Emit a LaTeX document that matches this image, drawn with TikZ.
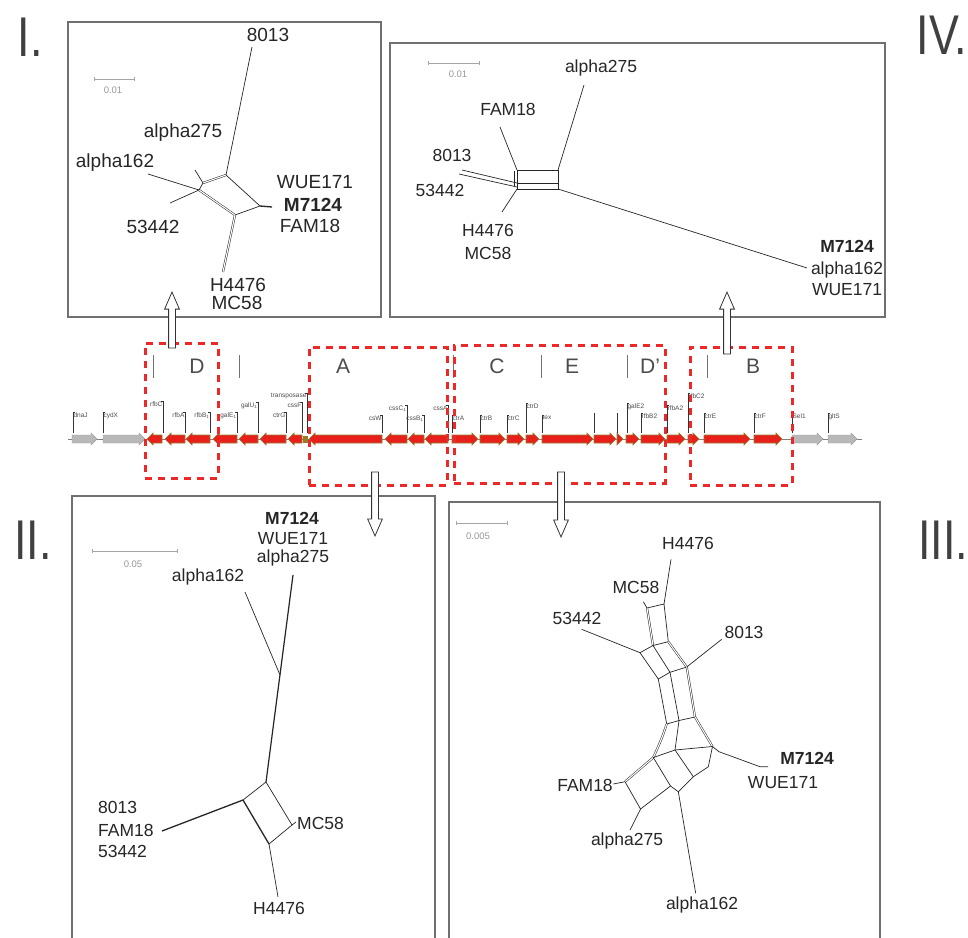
\documentclass[tikz,border=0pt]{standalone}
\usepackage{fontspec}
\setmainfont{Liberation Sans}
\usepackage{graphicx}
\usetikzlibrary{shapes.arrows,arrows.meta}

\definecolor{genrojo}{RGB}{232,32,28}
\definecolor{genoliva}{RGB}{150,125,45}
\definecolor{marco}{RGB}{112,112,112}
\definecolor{cajaroja}{RGB}{236,40,40}

\tikzset{
  panel/.style={draw=marco, line width=1.2pt, inner sep=0pt, outer sep=0pt, anchor=north west},
  rama/.style={draw=black!85, line width=0.7pt},
  ramadoble/.style={draw=black!85, double, double distance=1.1pt, line width=0.5pt},
  hoja/.style={font=\fontsize{17.5}{20}\selectfont, text=black!85, inner sep=1pt},
  escala/.style={draw=black!35, line width=1pt, {|[width=4pt]}-{|[width=4pt]}},
  escalatxt/.style={font=\fontsize{9.5}{10}\selectfont, text=black!40},
  numeral/.style={font=\fontsize{56}{60}\selectfont, text=black!75},
  region/.style={font=\fontsize{21}{24}\selectfont, text=black!70},
  separa/.style={draw=black!55, line width=1pt},
  cajazona/.style={draw=cajaroja, line width=3pt, dash pattern=on 7pt off 6pt,
    inner sep=0pt, outer sep=0pt, anchor=north west},
  genroja/.style={fill=genrojo, draw=genoliva, line width=0.6pt},
  gengris/.style={fill=black!28, draw=black!38, line width=0.4pt},
  gentick/.style={draw=black!80, line width=0.5pt},
  gennom/.style={font=\fontsize{6.5}{7}\selectfont, text=black!70, inner sep=0.4pt},
  flecha/.style={single arrow, draw=black!80, fill=white, line width=0.8pt,
    inner sep=3pt, single arrow head extend=4pt, single arrow tip angle=47}
}

% genes: x inicial, x final, estilo
\newcommand{\genF}[3]{%
  \filldraw[#3] (#1,435) -- ({#2-6},435) -- ({#2-6},433) -- (#2,439)
    -- ({#2-6},445) -- ({#2-6},443) -- (#1,443) -- cycle;}
\newcommand{\genR}[3]{%
  \filldraw[#3] (#2,435) -- ({#1+6},435) -- ({#1+6},433) -- (#1,439)
    -- ({#1+6},445) -- ({#1+6},443) -- (#2,443) -- cycle;}
% etiquetas de genes: x de la linea, y superior, texto, nombre
\newcommand{\etiqF}[4]{%
  \draw[gentick] (#1,433) -- (#1,#2) -- ++(2,0);
  \node[gennom, anchor=north west] (#4) at (#1,#2) {#3};}
\newcommand{\etiqR}[4]{%
  \draw[gentick] (#1,433) -- (#1,#2) -- ++(-2,0);
  \node[gennom, anchor=north east] (#4) at (#1,#2) {#3};}

\begin{document}
\begin{tikzpicture}[x=1pt,y=-1pt]
    \useasboundingbox (0,0) rectangle (968,937);
    \clip (0,0) rectangle (968,937);
    \fill[white] (0,0) rectangle (968,937);

    % Numerales
    \node[numeral] (numI) at (30,37) {\scalebox{0.8}[1]{I.}};
    \node[numeral] (numIV) at (942,35) {\scalebox{0.8}[1]{IV.}};
    \node[numeral] (numII) at (33,540) {\scalebox{0.8}[1]{II.}};
    \node[numeral] (numIII) at (943,540) {\scalebox{0.8}[1]{III.}};

    % Paneles
    \node[panel, minimum width=313pt, minimum height=295pt] (panelI) at (68,22) {};
    \node[panel, minimum width=495pt, minimum height=274pt] (panelIV) at (390,43) {};
    \node[panel, minimum width=363pt, minimum height=460pt] (panelII) at (72,496) {};
    \node[panel, minimum width=431pt, minimum height=455pt] (panelIII) at (449,502) {};

    % Mapa de genes
    \draw[black!50, line width=1pt] (68,439) -- (862,439);
    \genF{72}{97}{gengris}
    \genF{103}{145}{gengris}
    \foreach \a/\b in {147/162,165/185,186/210,213/237,239/258,260/286,288/302,
                       309/382,385/407,408/424,425/448}
      {\genR{\a}{\b}{genroja}}
    \fill[genoliva] (303,435.5) rectangle (308,442.5);
    \foreach \a/\b in {452/478,480/505,507/524,526/539,542/593,594/616,617/623,
                       626/639,641/665,667/685,688/699,704/750,754/782}
      {\genF{\a}{\b}{genroja}}
    \genF{792}{823}{gengris}
    \genF{828}{857}{gengris}

    % Etiquetas de genes
    \etiqF{73}{412}{dnaJ}{gdnaJ}
    \etiqF{103}{412}{cydX}{gcydX}
    \etiqR{163}{401}{rfbC}{grfbC}
    \etiqR{185}{412}{rfbA}{grfbA}
    \etiqR{210}{412}{rfbB\textsubscript{1}}{grfbB}
    \etiqR{237}{412}{galE\textsubscript{1}}{ggalE}
    \etiqR{258}{402}{galU\textsubscript{1}}{ggalU}
    \etiqR{286}{412}{ctrG}{gctrG}
    \etiqR{302}{402}{cssF}{gcssF}
    \etiqR{307}{393}{transposase}{gtransp}
    \etiqR{382}{415}{csW}{gcsW}
    \etiqR{407}{405}{cssC\textsubscript{1}}{gcssC}
    \etiqR{424}{415}{cssB\textsubscript{1}}{gcssB}
    \etiqR{448}{405}{cssA}{gcssA}
    \etiqF{452}{415}{ctrA}{gctrA}
    \etiqF{480}{415}{ctrB}{gctrB}
    \etiqF{507}{415}{ctrC}{gctrC}
    \etiqF{526}{403}{ctrD}{gctrD}
    \etiqF{542}{415}{tex}{gtex}
    \draw[gentick] (594,433) -- (594,413);
    \draw[gentick] (617,433) -- (617,413);
    \etiqF{627}{403}{galE2}{ggalEb}
    \etiqF{641}{413}{rfbB2}{grfbBb}
    \etiqF{667}{405}{rfbA2}{grfbAb}
    \etiqF{688}{393}{rfbC2}{grfbCb}
    \etiqF{704}{413}{ctrE}{gctrE}
    \etiqF{754}{413}{ctrF}{gctrF}
    \etiqF{792}{413}{Sel1}{gSel}
    \etiqF{828}{413}{gltS}{ggltS}

    % Regiones
    \foreach \x in {153,239,453,541,627,707}
      \draw[separa] (\x,355) -- (\x,378);
    \node[region] (regD) at (197,366) {D};
    \node[region] (regA) at (343,366) {A};
    \node[region] (regC) at (497,366) {C};
    \node[region] (regE) at (572,366) {E};
    \node[region] (regDp) at (650,366) {D'};
    \node[region] (regB) at (753,366) {B};

    % Cajas rojas
    \node[cajazona, minimum width=73pt, minimum height=135pt] (zonaD) at (145,343) {};
    \node[cajazona, minimum width=138pt, minimum height=138pt] (zonaA) at (309,347) {};
    \node[cajazona, minimum width=211pt, minimum height=138pt] (zonaCE) at (454,345) {};
    \node[cajazona, minimum width=102pt, minimum height=138pt] (zonaB) at (690,347) {};

    % Flechas huecas
    \node[flecha, rotate=90, minimum height=56pt] (flI) at (172,324) {};
    \node[flecha, rotate=90, minimum height=62pt] (flIV) at (727,327) {};
    \node[flecha, rotate=-90, minimum height=64pt] (flII) at (375,500) {};
    \node[flecha, rotate=-90, minimum height=65pt] (flIII) at (561,500.5) {};

    % Panel I
    \draw[escala] (94,79) -- (135,79);
    \node[escalatxt] (escI) at (113,90) {0.01};
    \coordinate (Ia) at (203,183);
    \coordinate (Ib) at (226,175);
    \coordinate (Ic) at (260,206);
    \coordinate (Id) at (235,215);
    \coordinate (Ie) at (199,190);
    \draw[ramadoble] (Ia) -- (Ib);
    \draw[rama] (Ib) -- (Ic) -- (Id);
    \draw[ramadoble] (Id) -- (Ie);
    \draw[rama] (Ie) -- (Ia);
    \draw[rama] (Ib) -- (252,47);
    \draw[rama] (Ia) -- (195,170);
    \draw[rama] (Ie) -- (148,174);
    \draw[rama] (Ie) -- (170,203);
    \draw[rama, line width=1.3pt] (Ic) -- (272,207);
    \draw[ramadoble] (Id) -- (223,272);
    \begin{scope}[hoja/.append style={font=\fontsize{19}{22}\selectfont}]
      \node[hoja] (I8013) at (268,35) {8013};
      \node[hoja] (Ialpha275) at (183,133) {alpha275};
      \node[hoja] (Ialpha162) at (115,163) {alpha162};
      \node[hoja] (IWUE171) at (315,182) {WUE171};
      \node[hoja] (IM7124) at (313,205) {\textbf{M7124}};
      \node[hoja] (I53442) at (153,227) {53442};
      \node[hoja] (IFAM18) at (310,226) {FAM18};
      \node[hoja] (IH4476) at (238,285) {H4476};
      \node[hoja] (IMC58) at (237,303) {MC58};
    \end{scope}

    % Panel IV
    \draw[escala] (428,63) -- (480,63);
    \node[escalatxt] (escIV) at (458,74) {0.01};
    \draw[rama] (517,170) rectangle (558,189);
    \draw[rama] (517,183) -- (558,183);
    \draw[rama] (514,171) -- (514,186);
    \draw[rama] (558,170) -- (584,85);
    \draw[rama] (517,170) -- (500,127);
    \draw[rama] (517,183) -- (462,170);
    \draw[rama] (517,187) -- (459,174);
    \draw[rama] (517,189) -- (502,212);
    \draw[rama] (558,189) -- (807,268);
    \node[hoja] (IValpha275) at (601,68) {alpha275};
    \node[hoja] (IVFAM18) at (508,109) {FAM18};
    \node[hoja] (IV8013) at (452,155) {8013};
    \node[hoja] (IV53442) at (440,190) {53442};
    \node[hoja] (IVH4476) at (488,230) {H4476};
    \node[hoja] (IVMC58) at (488,253) {MC58};
    \node[hoja] (IVM7124) at (847,246) {\textbf{M7124}};
    \node[hoja] (IValpha162) at (847,270) {alpha162};
    \node[hoja] (IVWUE171) at (847,290) {WUE171};

    % Panel II
    \draw[escala] (92,551) -- (178,551);
    \node[escalatxt] (escII) at (133,564) {0.05};
    \coordinate (IIa) at (266,782);
    \coordinate (IIb) at (243,800);
    \coordinate (IIc) at (269,844);
    \coordinate (IId) at (292,825);
    \draw[rama] (IIa) -- (IIb);
    \draw[rama, line width=1.3pt] (IIb) -- (IIc);
    \draw[rama] (IIc) -- (IId) -- (IIa);
    \draw[rama, line width=1.2pt] (IIa) -- (293,575);
    \draw[rama] (280,675) -- (245,592);
    \draw[rama, line width=1.3pt] (IIb) -- (162,831);
    \draw[rama] (IIc) -- (278,897);
    \draw[rama] (IId) -- (296,822);
    \node[hoja] (IIM7124) at (292,518) {\textbf{M7124}};
    \node[hoja] (IIWUE171) at (293,539) {WUE171};
    \node[hoja] (IIalpha275) at (293,558) {alpha275};
    \node[hoja] (IIalpha162) at (208,577) {alpha162};
    \node[hoja, anchor=west] (II8013) at (97,807) {8013};
    \node[hoja, anchor=west] (IIFAM18) at (97,830) {FAM18};
    \node[hoja, anchor=west] (II53442) at (97,851) {53442};
    \node[hoja, anchor=west] (IIMC58) at (296,823) {MC58};
    \node[hoja] (IIH4476) at (279,908) {H4476};

    % Panel III
    \draw[escala] (456,523) -- (508,523);
    \node[escalatxt] (escIII) at (478,536) {0.005};
    \coordinate (a1) at (647,608);
    \coordinate (a2) at (664,604);
    \coordinate (b0) at (640,652.7);
    \coordinate (b1) at (653,645.5);
    \coordinate (b2) at (668.3,641.7);
    \coordinate (c0) at (658.3,679);
    \coordinate (c1) at (670,672.3);
    \coordinate (c2) at (686.7,667);
    \coordinate (d0) at (666.7,724);
    \coordinate (d1) at (679,720.5);
    \coordinate (d2) at (695,717);
    \coordinate (f0) at (653.3,757.5);
    \coordinate (f1) at (675,750);
    \coordinate (f3) at (712.5,746.5);
    \coordinate (fam) at (625,781.7);
    \coordinate (g0) at (640.5,809);
    \coordinate (h0) at (670.5,786);
    \coordinate (i0) at (678.3,791.7);
    \coordinate (k1) at (693.3,776.7);
    \coordinate (k2) at (708.3,766.7);
    \coordinate (m0) at (719,751.7);
    \draw[rama] (a1) -- (a2) -- (b2);
    \draw[ramadoble] (a1) -- (b1);
    \draw[rama] (b0) -- (b1) -- (b2);
    \draw[rama] (b0) -- (c0) -- (c1) -- (c2);
    \draw[rama] (b1) -- (c1);
    \draw[ramadoble] (b2) -- (c2);
    \draw[rama] (c0) -- (d0) -- (d1) -- (d2);
    \draw[rama] (c1) -- (d1);
    \draw[ramadoble] (c2) -- (d2);
    \draw[ramadoble] (d0) .. controls (662,738) .. (f0);
    \draw[ramadoble] (f0) -- (fam);
    \draw[rama] (d1) -- (f1);
    \draw[ramadoble] (d2) -- (f3);
    \draw[rama] (f0) -- (f1) -- (f3) -- (m0);
    \draw[rama] (fam) -- (g0) -- (h0) -- (f0);
    \draw[rama] (f1) -- (k1);
    \draw[rama] (f3) -- (k2);
    \draw[rama] (h0) -- (i0) -- (k1) -- (k2);
    \draw[rama] (a2) -- (671,559.3);
    \draw[rama] (a1) -- (643.3,601.7);
    \draw[rama] (b0) -- (581.7,629.3);
    \draw[rama] (c2) -- (721.7,639.3);
    \draw[rama] (m0) -- (760,766.7) -- (768,766.7);
    \draw[rama] (fam) -- (613.3,784);
    \draw[rama] (g0) -- (630,830);
    \draw[rama] (i0) -- (695.7,893.3);
    \node[hoja] (IIIH4476) at (688,543) {H4476};
    \node[hoja] (IIIMC58) at (636,587) {MC58};
    \node[hoja] (III53442) at (577,618) {53442};
    \node[hoja] (III8013) at (744,632) {8013};
    \node[hoja] (IIIM7124) at (807,758) {\textbf{M7124}};
    \node[hoja] (IIIWUE171) at (783,783) {WUE171};
    \node[hoja] (IIIFAM18) at (585,785) {FAM18};
    \node[hoja] (IIIalpha275) at (627,841) {alpha275};
    \node[hoja] (IIIalpha162) at (702,905) {alpha162};
\end{tikzpicture}
\end{document}
